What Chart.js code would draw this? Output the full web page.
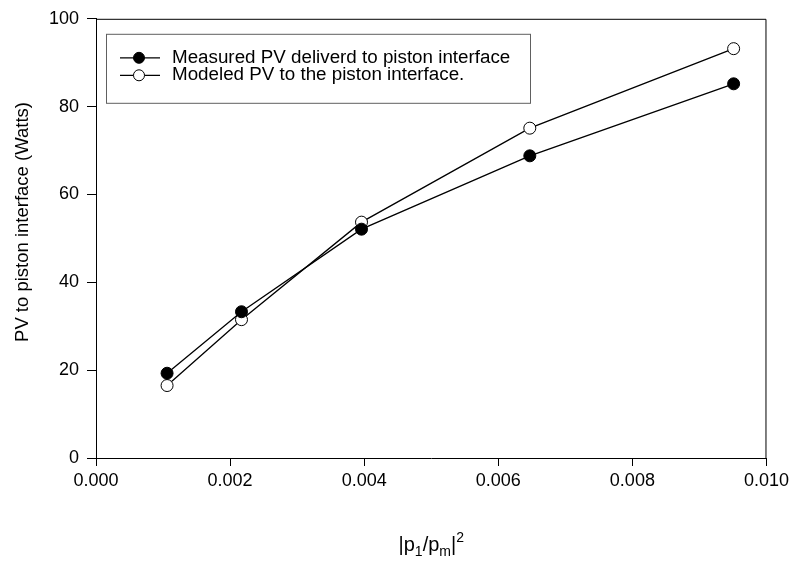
<!DOCTYPE html>
<html>
<head>
<meta charset="utf-8">
<script src="https://cdn.jsdelivr.net/npm/chart.js@4.4.1/dist/chart.umd.min.js"></script>
<style>
  html, body { margin: 0; padding: 0; background: #fff; }
  #wrap { width: 793px; height: 575px; }
</style>
</head>
<body>
<div id="wrap"><canvas id="pvChart"></canvas></div>
<script>
// data
const pressureRatio = [0.00106, 0.00217, 0.00396, 0.00647, 0.00951];
const measuredPV = [19.3, 33.3, 52.1, 68.8, 85.2];
const modeledPV = [16.5, 31.5, 53.7, 75.1, 93.2];
const seriesNames = ['Measured PV deliverd to piston interface', 'Modeled PV to the piston interface.'];
const xTicks = [0, 0.002, 0.004, 0.006, 0.008, 0.010];
const yTicks = [0, 20, 40, 60, 80, 100];
const yTitle = 'PV to piston interface (Watts)';

const FONT = 'Arial, "Liberation Sans", sans-serif';

function toPoints(ys) {
    return pressureRatio.map((x, i) => ({ x: x, y: ys[i] }));
}

// frame, inset legend and axis titles (the x title needs sub/superscripts)
const decorPlugin = {
    id: 'decor',
    afterDraw(chart) {
        const ctx = chart.ctx;
        const area = chart.chartArea;
        ctx.save();

        // top and right edges of the box
        ctx.strokeStyle = '#000';
        ctx.lineWidth = 1;
        ctx.beginPath();
        ctx.moveTo(area.left, area.top + 0.5);
        ctx.lineTo(area.right - 0.5, area.top + 0.5);
        ctx.lineTo(area.right - 0.5, area.bottom);
        ctx.stroke();

        // legend
        const lx = area.left + 10, ly = area.top + 15;
        ctx.strokeStyle = '#606060';
        ctx.strokeRect(lx + 0.5, ly + 0.5, 424, 69);
        const rows = [
            { name: seriesNames[0], fill: '#000' },
            { name: seriesNames[1], fill: '#fff' }
        ];
        rows.forEach((r, i) => {
            const cy = ly + 24 + i * 17.5;
            ctx.strokeStyle = '#000';
            ctx.lineWidth = 1.3;
            ctx.beginPath();
            ctx.moveTo(lx + 14, cy);
            ctx.lineTo(lx + 54, cy);
            ctx.stroke();
            ctx.beginPath();
            ctx.arc(lx + 33, cy, 5.5, 0, Math.PI * 2);
            ctx.fillStyle = r.fill;
            ctx.fill();
            ctx.lineWidth = 1;
            ctx.stroke();
            ctx.fillStyle = '#000';
            ctx.font = '18.8px ' + FONT;
            ctx.textBaseline = 'middle';
            ctx.textAlign = 'left';
            ctx.fillText(r.name, lx + 66, cy);
        });

        // y axis title
        ctx.save();
        ctx.translate(23, 222);
        ctx.rotate(-Math.PI / 2);
        ctx.font = '18.5px ' + FONT;
        ctx.textAlign = 'center';
        ctx.textBaseline = 'middle';
        ctx.fillStyle = '#000';
        ctx.fillText(yTitle, 0, 0);
        ctx.restore();

        // x axis title |p1/pm|^2
        const parts = [
            { t: '|p', size: 20, dy: 0 },
            { t: '1', size: 14, dy: 5 },
            { t: '/p', size: 20, dy: 0 },
            { t: 'm', size: 14, dy: 5 },
            { t: '|', size: 20, dy: 0 },
            { t: '2', size: 14, dy: -9 }
        ];
        let total = 0;
        parts.forEach(p => { ctx.font = p.size + 'px ' + FONT; p.w = ctx.measureText(p.t).width; total += p.w; });
        let x = (area.left + area.right) / 2 - total / 2;
        const base = area.bottom + 93;
        ctx.textAlign = 'left';
        ctx.textBaseline = 'alphabetic';
        ctx.fillStyle = '#000';
        parts.forEach(p => {
            ctx.font = p.size + 'px ' + FONT;
            ctx.fillText(p.t, x, base + p.dy);
            x += p.w;
        });

        ctx.restore();
    }
};

const ctx = document.getElementById('pvChart').getContext('2d');
const pvChart = new Chart(ctx, {
    type: 'line',
    data: {
        datasets: [
            {
                label: seriesNames[0],
                data: toPoints(measuredPV),
                borderColor: '#000',
                borderWidth: 1.3,
                pointRadius: 6,
                pointBackgroundColor: '#000',
                pointBorderColor: '#000',
                pointBorderWidth: 1,
                fill: false,
                tension: 0
            },
            {
                label: seriesNames[1],
                data: toPoints(modeledPV),
                borderColor: '#000',
                borderWidth: 1.3,
                pointRadius: 6,
                pointBackgroundColor: '#fff',
                pointBorderColor: '#000',
                pointBorderWidth: 1,
                fill: false,
                tension: 0
            }
        ]
    },
    options: {
        responsive: true,
        maintainAspectRatio: false,
        animation: false,
        layout: { padding: { top: 16, right: 25, left: 0, bottom: 0 } },
        scales: {
            x: {
                type: 'linear',
                min: 0,
                max: 0.01,
                afterBuildTicks: axis => { axis.ticks = xTicks.map(v => ({ value: v })); },
                afterFit: axis => { axis.height = 117; },
                ticks: {
                    color: '#000',
                    font: { family: FONT, size: 18 },
                    padding: 4,
                    maxRotation: 0,
                    callback: v => v.toFixed(3)
                },
                grid: { drawOnChartArea: false, drawTicks: true, tickLength: 8, color: '#000' },
                border: { display: true, color: '#000', width: 1 }
            },
            y: {
                min: 0,
                max: 100,
                afterBuildTicks: axis => { axis.ticks = yTicks.map(v => ({ value: v })); },
                afterFit: axis => { axis.width = 96; },
                ticks: {
                    color: '#000',
                    font: { family: FONT, size: 18 },
                    padding: 8
                },
                grid: { drawOnChartArea: false, drawTicks: true, tickLength: 9, color: '#000' },
                border: { display: true, color: '#000', width: 1 }
            }
        },
        plugins: {
            legend: { display: false },
            tooltip: { enabled: false }
        }
    },
    plugins: [decorPlugin]
});
</script>
</body>
</html>
